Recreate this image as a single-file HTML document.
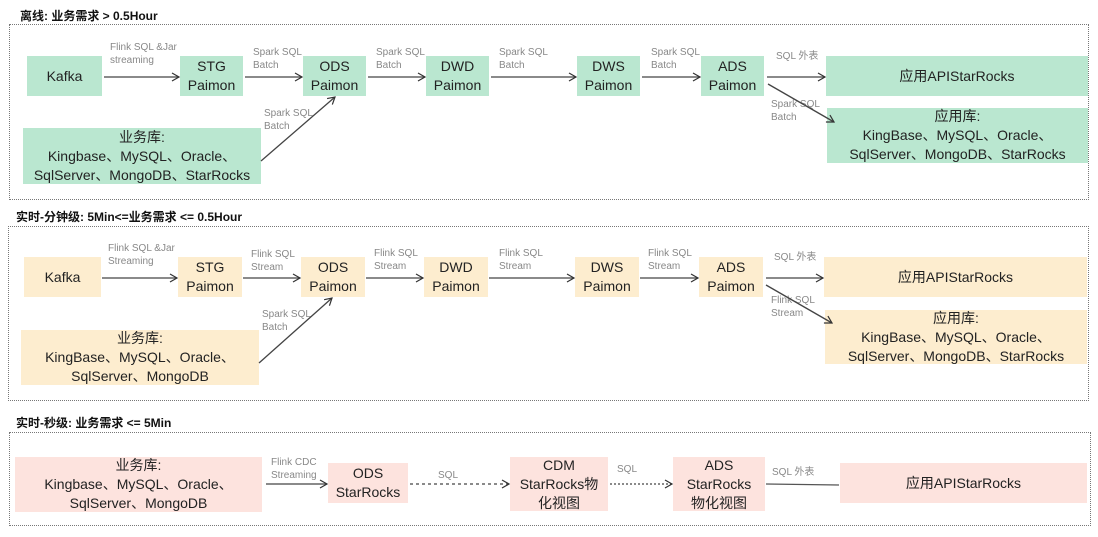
<!DOCTYPE html>
<html><head><meta charset="utf-8"><style>
body{margin:0;width:1098px;height:537px;background:#fff;position:relative;overflow:hidden;font-family:"Liberation Sans","Noto Sans CJK SC",sans-serif;}
.t{position:absolute;font-weight:bold;font-size:12px;color:#111;}
.f{position:absolute;border:1px dotted #777;}
.b{position:absolute;display:flex;align-items:center;justify-content:center;text-align:center;font-size:14px;color:#222;line-height:19px;white-space:nowrap}
.g{background:#bae7d0}.o{background:#fdedcf}.p{background:#fde3de}
.l{position:absolute;font-size:10px;color:#888;line-height:13px;white-space:nowrap}
svg{position:absolute;left:0;top:0}
</style></head><body>
<div class="t" style="left:20px;top:7px">离线: 业务需求 &gt; 0.5Hour</div>
<div class="f" style="left:9px;top:24px;width:1078px;height:174px"></div>
<div class="t" style="left:16px;top:208px">实时-分钟级: 5Min&lt;=业务需求 &lt;= 0.5Hour</div>
<div class="f" style="left:8px;top:226px;width:1079px;height:173px"></div>
<div class="t" style="left:16px;top:414px">实时-秒级: 业务需求 &lt;= 5Min</div>
<div class="f" style="left:9px;top:432px;width:1080px;height:92px"></div>

<!-- section 1 -->
<div class="b g" style="left:27px;top:56px;width:75px;height:40px">Kafka</div>
<div class="b g" style="left:180px;top:56px;width:63px;height:40px">STG<br>Paimon</div>
<div class="b g" style="left:303px;top:56px;width:63px;height:40px">ODS<br>Paimon</div>
<div class="b g" style="left:426px;top:56px;width:63px;height:40px">DWD<br>Paimon</div>
<div class="b g" style="left:577px;top:56px;width:63px;height:40px">DWS<br>Paimon</div>
<div class="b g" style="left:701px;top:56px;width:63px;height:40px">ADS<br>Paimon</div>
<div class="b g" style="left:826px;top:56px;width:262px;height:40px">应用APIStarRocks</div>
<div class="b g" style="left:23px;top:128px;width:238px;height:56px">业务库:<br>Kingbase、MySQL、Oracle、<br>SqlServer、MongoDB、StarRocks</div>
<div class="b g" style="left:827px;top:108px;width:261px;height:55px">应用库:<br>KingBase、MySQL、Oracle、<br>SqlServer、MongoDB、StarRocks</div>
<div class="l" style="left:110px;top:41px">Flink  SQL  &amp;Jar<br>streaming</div>
<div class="l" style="left:253px;top:46px">Spark SQL<br>Batch</div>
<div class="l" style="left:376px;top:46px">Spark SQL<br>Batch</div>
<div class="l" style="left:499px;top:46px">Spark SQL<br>Batch</div>
<div class="l" style="left:651px;top:46px">Spark SQL<br>Batch</div>
<div class="l" style="left:776px;top:50px">SQL 外表</div>
<div class="l" style="left:771px;top:98px">Spark SQL<br>Batch</div>
<div class="l" style="left:264px;top:107px">Spark SQL<br>Batch</div>

<!-- section 2 -->
<div class="b o" style="left:24px;top:257px;width:77px;height:40px">Kafka</div>
<div class="b o" style="left:178px;top:257px;width:64px;height:40px">STG<br>Paimon</div>
<div class="b o" style="left:301px;top:257px;width:64px;height:40px">ODS<br>Paimon</div>
<div class="b o" style="left:424px;top:257px;width:64px;height:40px">DWD<br>Paimon</div>
<div class="b o" style="left:575px;top:257px;width:64px;height:40px">DWS<br>Paimon</div>
<div class="b o" style="left:699px;top:257px;width:64px;height:40px">ADS<br>Paimon</div>
<div class="b o" style="left:824px;top:257px;width:263px;height:40px">应用APIStarRocks</div>
<div class="b o" style="left:21px;top:330px;width:238px;height:55px">业务库:<br>KingBase、MySQL、Oracle、<br>SqlServer、MongoDB</div>
<div class="b o" style="left:825px;top:310px;width:262px;height:54px">应用库:<br>KingBase、MySQL、Oracle、<br>SqlServer、MongoDB、StarRocks</div>
<div class="l" style="left:108px;top:242px">Flink  SQL  &amp;Jar<br>Streaming</div>
<div class="l" style="left:251px;top:248px">Flink  SQL<br>Stream</div>
<div class="l" style="left:374px;top:247px">Flink  SQL<br>Stream</div>
<div class="l" style="left:499px;top:247px">Flink  SQL<br>Stream</div>
<div class="l" style="left:648px;top:247px">Flink  SQL<br>Stream</div>
<div class="l" style="left:774px;top:251px">SQL 外表</div>
<div class="l" style="left:771px;top:294px">Flink  SQL<br>Stream</div>
<div class="l" style="left:262px;top:308px">Spark SQL<br>Batch</div>

<!-- section 3 -->
<div class="b p" style="left:15px;top:457px;width:247px;height:55px">业务库:<br>Kingbase、MySQL、Oracle、<br>SqlServer、MongoDB</div>
<div class="b p" style="left:328px;top:463px;width:80px;height:40px">ODS<br>StarRocks</div>
<div class="b p" style="left:510px;top:457px;width:98px;height:54px">CDM<br>StarRocks物<br>化视图</div>
<div class="b p" style="left:673px;top:457px;width:92px;height:54px">ADS<br>StarRocks<br>物化视图</div>
<div class="b p" style="left:840px;top:463px;width:247px;height:40px">应用APIStarRocks</div>
<div class="l" style="left:271px;top:456px">Flink  CDC<br>Streaming</div>
<div class="l" style="left:438px;top:469px">SQL</div>
<div class="l" style="left:617px;top:463px">SQL</div>
<div class="l" style="left:772px;top:466px">SQL 外表</div>

<svg width="1098" height="537">
<defs><marker id="a" markerWidth="10" markerHeight="10" refX="8" refY="5" orient="auto" markerUnits="userSpaceOnUse"><path d="M1,1 L8,5 L1,9" fill="none" stroke="#333" stroke-width="1.2"/></marker></defs>
<g stroke="#444" stroke-width="1.3" fill="none" marker-end="url(#a)">
<line x1="104" y1="77" x2="179" y2="77"/>
<line x1="245" y1="77" x2="302" y2="77"/>
<line x1="368" y1="77" x2="425" y2="77"/>
<line x1="491" y1="77" x2="576" y2="77"/>
<line x1="642" y1="77" x2="700" y2="77"/>
<line x1="767" y1="77" x2="825" y2="77"/>
<line x1="768" y1="84" x2="834" y2="122"/>
<line x1="261" y1="161" x2="335" y2="97"/>

<line x1="102" y1="278" x2="177" y2="278"/>
<line x1="243" y1="278" x2="300" y2="278"/>
<line x1="366" y1="278" x2="423" y2="278"/>
<line x1="489" y1="278" x2="574" y2="278"/>
<line x1="640" y1="278" x2="698" y2="278"/>
<line x1="766" y1="278" x2="823" y2="278"/>
<line x1="766" y1="285" x2="832" y2="323"/>
<line x1="259" y1="363" x2="332" y2="298"/>

<line x1="266" y1="484" x2="327" y2="484"/>
<line x1="410" y1="484" x2="509" y2="484" stroke-dasharray="3,3"/>
<line x1="610" y1="484" x2="672" y2="484" stroke-dasharray="2,2"/>
</g>
<line x1="766" y1="484" x2="839" y2="485" stroke="#555" stroke-width="1.3"/>
</svg>
</body></html>
